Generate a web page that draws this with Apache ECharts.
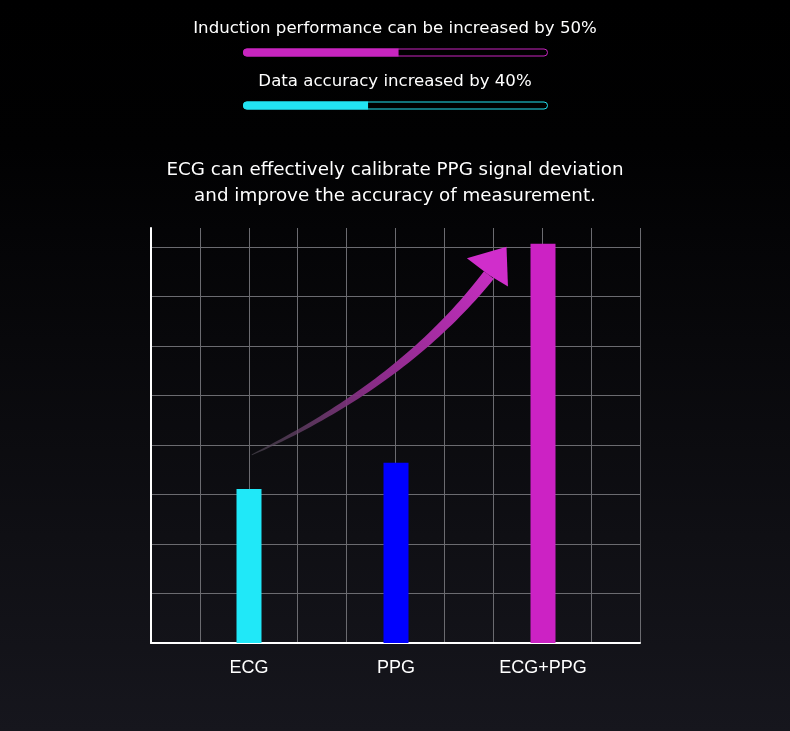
<!DOCTYPE html>
<html>
<head>
<meta charset="utf-8">
<style>
html,body{margin:0;padding:0;background:#000;}
#main{width:790px;height:731px;}
</style>
<script src="https://cdn.jsdelivr.net/npm/echarts@6/dist/echarts.min.js"></script>
</head>
<body>
<div id="main"></div>
<script>
var categories = ['ECG', 'PPG', 'ECG+PPG'];
var barValues = [3.11, 3.64, 8.06];
var barColors = ['#20e8f8', '#0000ff', '#cc22c4'];
var progressLabels = ['Induction performance can be increased by 50%', 'Data accuracy increased by 40%'];
var progressValues = [51, 41];
var progressColors = ['#c825bf', '#22e3f2'];
var titleLines = ['ECG can effectively calibrate PPG signal deviation', 'and improve the accuracy of measurement.'];
// arrow in grid units: start, control, shaft end, tip, wing, wing
var arrowPath = [[2.06, 3.80], [5.17, 5.24], [6.91, 7.43], [7.27, 8.0], [6.46, 7.77], [7.30, 7.20]];

var myChart = echarts.init(document.getElementById('main'));

function renderArrow(params, api) {
    if (params.dataIndex !== 0) return;
    var p = arrowPath.map(function (d) { return api.coord(d); });
    var S = p[0], Q = p[1], B = p[2];
    var left = [], right = [];
    var n = 50;
    for (var i = 0; i <= n; i++) {
        var t = i / n;
        var x = (1 - t) * (1 - t) * S[0] + 2 * (1 - t) * t * Q[0] + t * t * B[0];
        var y = (1 - t) * (1 - t) * S[1] + 2 * (1 - t) * t * Q[1] + t * t * B[1];
        var dx = 2 * (1 - t) * (Q[0] - S[0]) + 2 * t * (B[0] - Q[0]);
        var dy = 2 * (1 - t) * (Q[1] - S[1]) + 2 * t * (B[1] - Q[1]);
        var len = Math.sqrt(dx * dx + dy * dy);
        var w = 0.4 + 5.8 * Math.pow(t, 0.75);
        var nx = -dy / len * w, ny = dx / len * w;
        left.push([x + nx, y + ny]);
        right.unshift([x - nx, y - ny]);
    }
    return {
        type: 'group',
        children: [
            {
                type: 'polygon',
                shape: {points: left.concat(right)},
                style: {
                    fill: new echarts.graphic.LinearGradient(S[0], S[1], p[3][0], p[3][1], [
                        {offset: 0, color: 'rgba(85,80,90,0.6)'},
                        {offset: 0.4, color: '#862c84'},
                        {offset: 1, color: '#d02ecb'}
                    ], true)
                }
            },
            {
                type: 'polygon',
                shape: {points: [p[3], p[4], B, p[5]]},
                style: {fill: '#d02ecb'}
            }
        ]
    };
}

var textStyle = {color: '#fff', fontSize: 16.6, fontWeight: 'normal', fontFamily: 'DejaVu Sans'};
var headStyle = {color: '#fff', fontSize: 18.3, fontWeight: 'normal', fontFamily: 'DejaVu Sans'};

var option = {
    animation: false,
    backgroundColor: {
        type: 'linear', x: 0, y: 0, x2: 0, y2: 1,
        colorStops: [
            {offset: 0, color: '#000000'},
            {offset: 0.2, color: '#010102'},
            {offset: 1, color: '#16161d'}
        ]
    },
    title: [
        {text: progressLabels[0], left: 'center', top: 20, padding: 0, textStyle: textStyle},
        {text: progressLabels[1], left: 'center', top: 73, padding: 0, textStyle: textStyle},
        {text: titleLines[0], left: 'center', top: 161, padding: 0, textStyle: headStyle},
        {text: titleLines[1], left: 'center', top: 187, padding: 0, textStyle: headStyle}
    ],
    grid: [
        {left: 151, right: 150, top: 228, bottom: 88},
        {left: 175.5, width: 441, top: 228, bottom: 88},
        {left: 243, width: 305, top: 26, height: 106}
    ],
    xAxis: [
        {
            type: 'value', gridIndex: 0, min: 0, max: 10, interval: 1,
            axisLine: {show: true, lineStyle: {color: '#fff', width: 2}},
            axisTick: {show: false},
            axisLabel: {show: false},
            splitLine: {show: true, lineStyle: {color: '#6b6b70', width: 1}}
        },
        {
            type: 'category', gridIndex: 1, data: categories,
            axisLine: {show: false},
            axisTick: {show: false},
            axisLabel: {color: '#fff', fontSize: 18, fontFamily: 'Liberation Sans', margin: 16}
        },
        {type: 'value', gridIndex: 2, min: 0, max: 100, show: false}
    ],
    yAxis: [
        {
            type: 'value', gridIndex: 0, min: 0, max: 8.38, interval: 1,
            axisLine: {show: true, lineStyle: {color: '#fff', width: 2}},
            axisTick: {show: false},
            axisLabel: {show: false},
            splitLine: {show: true, showMaxLine: false, lineStyle: {color: '#6b6b70', width: 1}}
        },
        {type: 'value', gridIndex: 1, min: 0, max: 8.38, show: false, splitLine: {show: false}},
        {type: 'category', gridIndex: 2, inverse: true, data: progressLabels, show: false}
    ],
    series: [
        {
            type: 'custom', xAxisIndex: 0, yAxisIndex: 0, z: 3,
            renderItem: renderArrow,
            data: [arrowPath[0]],
            silent: true
        },
        {
            type: 'bar', xAxisIndex: 1, yAxisIndex: 1, barWidth: 25, z: 4,
            data: barValues.map(function (v, i) {
                return {value: v, itemStyle: {color: barColors[i]}};
            })
        },
        {
            type: 'bar', xAxisIndex: 2, yAxisIndex: 2, barWidth: 8, barGap: '-100%',
            data: progressColors.map(function (c) {
                return {value: 100, itemStyle: {color: '#000', borderColor: c, borderWidth: 1, borderRadius: 4}};
            })
        },
        {
            type: 'bar', xAxisIndex: 2, yAxisIndex: 2, barWidth: 8, barGap: '-100%',
            data: progressValues.map(function (v, i) {
                return {value: v, itemStyle: {color: progressColors[i], borderRadius: [4, 0, 0, 4]}};
            })
        }
    ]
};
myChart.setOption(option, true);
</script>
</body>
</html>
